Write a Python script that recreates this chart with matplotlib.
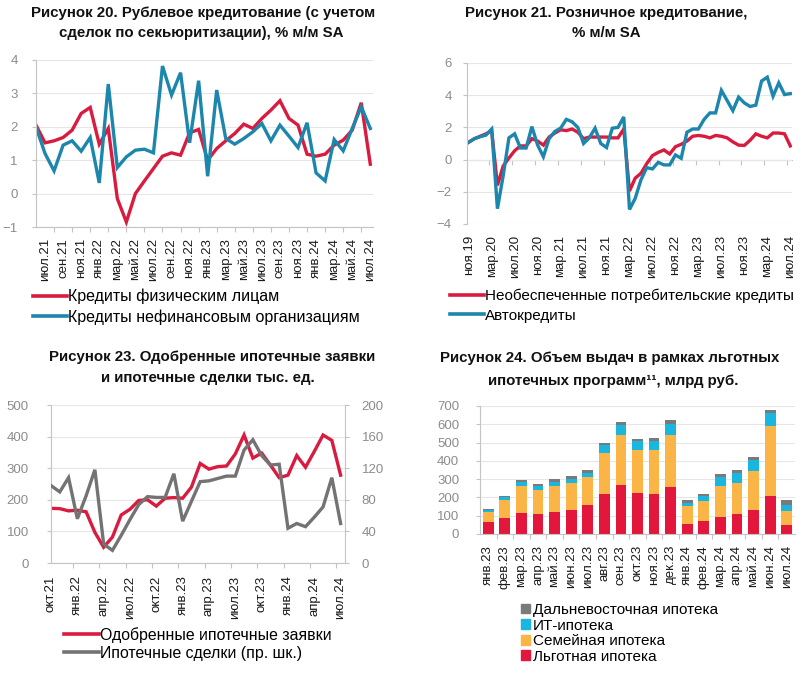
import numpy as np
import matplotlib
matplotlib.use("Agg")
import matplotlib.pyplot as plt
from matplotlib import font_manager as fm
from matplotlib.patches import Patch
from matplotlib.lines import Line2D

# Рисунок 20: рублевое кредитование, % м/м SA (июн.21 - июл.24)
p1_households = [2.05, 1.52, 1.58, 1.68, 1.9, 2.4, 2.58, 1.48, 1.95, -0.15,
                 -0.85, 0.0, 0.38, 0.75, 1.12, 1.22, 1.15, 1.82, 1.92, 1.0,
                 1.35, 1.58, 1.8, 2.08, 1.95, 2.25, 2.5, 2.78, 2.25, 2.05,
                 1.18, 1.12, 1.18, 1.45, 1.6, 1.9, 2.72, 0.88]
p1_corporates = [2.0, 1.2, 0.68, 1.45, 1.58, 1.27, 1.68, 0.32, 3.28, 0.78,
                 1.1, 1.3, 1.33, 1.22, 3.82, 2.95, 3.62, 1.52, 3.38, 0.52,
                 3.1, 1.65, 1.48, 1.65, 1.85, 2.1, 1.58, 2.05, 1.72, 1.38,
                 2.12, 0.62, 0.38, 1.62, 1.28, 1.95, 2.6, 1.95]
p1_ticklabels = ["июл.21", "сен.21", "ноя.21", "янв.22", "мар.22", "май.22",
                 "июл.22", "сен.22", "ноя.22", "янв.23", "мар.23", "май.23",
                 "июл.23", "сен.23", "ноя.23", "янв.24", "мар.24", "май.24",
                 "июл.24"]
p1_names = ["Кредиты физическим лицам", "Кредиты нефинансовым организациям"]

# Рисунок 21: розничное кредитование, % м/м SA (ноя.19 - июл.24)
p2_unsecured = [1.08, 1.3, 1.45, 1.6, 1.8, -1.6, -0.4, 0.1, 0.55, 0.85,
                0.85, 1.3, 1.15, 0.9, 1.4, 1.65, 1.85, 1.8, 1.9, 1.7,
                1.3, 1.4, 1.4, 1.4, 1.4, 1.35, 1.35, 1.9, -1.95, -1.15,
                -0.85, -0.25, 0.25, 0.45, 0.6, 0.35, 0.8, 0.95, 1.15, 1.45,
                1.5, 1.45, 1.35, 1.5, 1.45, 1.35, 1.1, 0.9, 0.88, 1.2,
                1.6, 1.45, 1.35, 1.65, 1.65, 1.6, 0.85]
p2_auto = [1.08, 1.3, 1.42, 1.52, 1.9, -3.05, -1.0, 1.35, 1.6, 0.72,
           0.72, 2.05, 0.9, 0.18, 1.3, 1.75, 1.95, 2.5, 2.35, 2.0,
           1.0, 1.35, 1.95, 1.0, 0.75, 1.95, 2.0, 2.65, -3.1, -2.4,
           -1.25, -0.5, -0.58, -0.17, -0.33, -0.33, 0.29, 0.08, 1.7, 1.9,
           1.9, 2.5, 2.9, 2.9, 4.3, 3.67, 3.04, 3.88, 3.52, 3.3,
           3.38, 4.88, 5.12, 3.94, 4.77, 4.04, 4.1]
p2_ticklabels = ["ноя.19", "мар.20", "июл.20", "ноя.20", "мар.21", "июл.21",
                 "ноя.21", "мар.22", "июл.22", "ноя.22", "мар.23", "июл.23",
                 "ноя.23", "мар.24", "июл.24"]
p2_names = ["Необеспеченные потребительские кредиты", "Автокредиты"]

# Рисунок 23: ипотечные заявки и сделки, тыс. ед. (окт.21 - июл.24)
p3_approved = [173, 172, 165, 167, 162, 97, 50, 82, 152, 170,
               198, 200, 180, 205, 207, 205, 240, 315, 297, 305,
               307, 345, 405, 332, 348, 310, 270, 278, 340, 303,
               353, 405, 388, 278]
p3_deals = [98, 90, 108, 56, 85, 118, 24, 16, 35, 55,
            74, 84, 83, 83, 113, 53, 78, 103, 104, 107,
            110, 110, 143, 156, 136, 124, 125, 44, 50, 46,
            58, 71, 108, 50]
p3_ticklabels = ["окт.21", "янв.22", "апр.22", "июл.22", "окт.22", "янв.23",
                 "апр.23", "июл.23", "окт.23", "янв.24", "апр.24", "июл.24"]
p3_names = ["Одобренные ипотечные заявки", "Ипотечные сделки (пр. шк.)"]

# Рисунок 24: выдачи по льготным программам, млрд руб.
p4_months = ["янв.23", "фев.23", "мар.23", "апр.23", "май.23", "июн.23",
             "июл.23", "авг.23", "сен.23", "окт.23", "ноя.23", "дек.23",
             "янв.24", "фев.24", "мар.24", "апр.24", "май.24", "июн.24",
             "июл.24"]
p4_lgotnaya = [65, 85, 115, 110, 123, 133, 157, 220, 268, 225,
               218, 257, 55, 70, 95, 108, 130, 208, 50]
p4_semeynaya = [58, 100, 145, 132, 142, 145, 153, 222, 272, 235,
                240, 285, 100, 112, 170, 172, 212, 385, 77]
p4_it = [10, 15, 22, 20, 22, 25, 25, 43, 55, 48,
         52, 60, 17, 27, 48, 52, 60, 67, 33]
p4_dv = [5, 10, 13, 12, 13, 13, 15, 12, 15, 12,
         15, 23, 12, 10, 14, 18, 18, 20, 25]
p4_names = ["Льготная ипотека", "Семейная ипотека", "ИТ-ипотека",
            "Дальневосточная ипотека"]

W, H = 807, 673
RED = "#d81b3e"
BLUE = "#1c86ad"
GRAY = "#737373"
BAR_COLORS = ["#e3173c", "#fbb446", "#19b6e0", "#7a7a7a"]
GRID = "#e6e6e6"
SPINE = "#c4c4c4"
YTXT = "#8c8c8c"


def pick_font(names, weight="normal"):
    for name in names:
        try:
            fm.findfont(fm.FontProperties(family=name, weight=weight),
                        fallback_to_default=False)
            return name
        except ValueError:
            pass
    return "DejaVu Sans"


SANS = pick_font(["Liberation Sans", "Arial"])
NARROW = pick_font(["Liberation Sans Narrow", "Liberation Sans"])
plt.rcParams["font.family"] = [SANS, "DejaVu Sans"]

fig = plt.figure(figsize=(W / 100, H / 100), dpi=100)


def px_axes(left, top, right, bottom):
    return fig.add_axes([left / W, 1 - bottom / H, (right - left) / W,
                         (bottom - top) / H])


def style_axes(ax, ypad=9):
    for s in ["top", "right"]:
        ax.spines[s].set_visible(False)
    for s in ["left", "bottom"]:
        ax.spines[s].set_color(SPINE)
        ax.spines[s].set_linewidth(0.8)
    ax.tick_params(axis="y", colors=SPINE, length=3, width=0.8, pad=ypad,
                   labelcolor=YTXT, labelsize=9.5)
    for t in ax.get_yticklabels():
        t.set_fontfamily(NARROW)
    ax.tick_params(axis="x", which="major", length=0, labelsize=9.5,
                   labelcolor="#1a1a1a", labelrotation=90)
    ax.tick_params(axis="x", which="minor", length=3.5, width=0.8,
                   colors=SPINE)
    ax.grid(axis="y", color=GRID, linewidth=0.8)
    ax.set_axisbelow(True)


def title(x, y, text):
    fig.text(x / W, 1 - y / H, text, ha="center", va="center",
             fontsize=10.8, fontweight="bold", color="#111111")


def legend(handles, labels, x, y, size=11, **kw):
    fig.legend(handles, labels, loc="upper left",
               bbox_to_anchor=(x / W, 1 - y / H), frameon=False,
               borderpad=0, borderaxespad=0, fontsize=size, **kw)


def line_handle(color):
    return Line2D([], [], color=color, linewidth=2.6)


# ---------- Рисунок 20 ----------
title(203, 13, "Рисунок 20. Рублевое кредитование (с учетом")
title(201, 33, "сделок по секьюритизации), % м/м SA")
ax1 = px_axes(36, 60, 373, 227)
x1 = np.arange(len(p1_households))
ax1.plot(x1, p1_households, color=RED, linewidth=2.4, solid_joinstyle="miter")
ax1.plot(x1, p1_corporates, color=BLUE, linewidth=2.4, solid_joinstyle="miter")
ax1.set_xlim(0, 37.3)
ax1.set_ylim(-1, 4)
ax1.set_yticks(range(-1, 5))
ax1.set_xticks(np.arange(1, len(x1), 2), p1_ticklabels)
ax1.set_xticks(np.arange(2, len(x1), 2), minor=True)
style_axes(ax1, ypad=10)
ax1.tick_params(axis="x", which="major", pad=8)
legend([line_handle(RED), line_handle(BLUE)], p1_names, 33, 289, size=11.5,
       handlelength=2.1, handletextpad=0.1, labelspacing=0.3)

# ---------- Рисунок 21 ----------
title(606, 13, "Рисунок 21. Розничное кредитование,")
title(606, 33, "% м/м SA")
ax2 = px_axes(467, 63, 792, 224)
x2 = np.arange(len(p2_auto))
ax2.plot(x2, p2_unsecured, color=RED, linewidth=2.4, solid_joinstyle="miter")
ax2.plot(x2, p2_auto, color=BLUE, linewidth=2.4, solid_joinstyle="miter")
ax2.set_xlim(-0.3, 56.3)
ax2.set_ylim(-4, 6)
ax2.set_yticks(range(-4, 7, 2))
ax2.set_xticks(np.arange(0, len(x2), 4), p2_ticklabels)
style_axes(ax2, ypad=8)
ax2.spines["bottom"].set_visible(False)
ax2.tick_params(axis="x", which="major", pad=8)
zero_axis = ax2.secondary_xaxis(4 / 10)
zero_axis.set_xticks(np.arange(3.5, len(x2), 4), [])
zero_axis.tick_params(length=3.5, width=0.8, colors=SPINE)
zero_axis.spines["bottom"].set_color(SPINE)
zero_axis.spines["bottom"].set_linewidth(0.8)
legend([line_handle(RED), line_handle(BLUE)], p2_names, 450, 289,
       handlelength=2.2, handletextpad=0.1, labelspacing=0.35)

# ---------- Рисунок 23 ----------
title(212, 357, "Рисунок 23. Одобренные ипотечные заявки")
title(208, 378, "и ипотечные сделки тыс. ед.")
ax3 = px_axes(51, 405, 345, 563)
x3 = np.arange(len(p3_approved))
ax3.plot(x3, p3_approved, color=RED, linewidth=2.4, solid_joinstyle="miter")
ax3.set_xlim(0, 33.5)
ax3.set_ylim(0, 500)
ax3.set_yticks(range(0, 501, 100))
ax3.set_xticks(np.arange(0, len(x3), 3), p3_ticklabels)
ax3.set_xticks(np.arange(2.5, len(x3), 3), minor=True)
style_axes(ax3, ypad=13)
ax3.tick_params(axis="x", which="major", pad=9)
ax3b = ax3.twinx()
ax3b.plot(x3, p3_deals, color=GRAY, linewidth=2.4, solid_joinstyle="miter")
ax3b.set_ylim(0, 200)
ax3b.set_yticks(range(0, 201, 40))
for s in ["top", "left", "bottom"]:
    ax3b.spines[s].set_visible(False)
ax3b.spines["right"].set_color(SPINE)
ax3b.spines["right"].set_linewidth(0.8)
ax3b.tick_params(axis="y", colors=SPINE, length=3, width=0.8, pad=9,
                 labelcolor=YTXT, labelsize=9.5)
for t in ax3b.get_yticklabels():
    t.set_fontfamily(NARROW)
legend([line_handle(RED), line_handle(GRAY)], p3_names, 64, 627, size=11.4,
       handlelength=2.2, handletextpad=0.1, labelspacing=0.2)

# ---------- Рисунок 24 ----------
title(610, 358, "Рисунок 24. Объем выдач в рамках льготных")
title(613, 381, "ипотечных программ¹¹, млрд руб.")
ax4 = px_axes(480, 406, 795, 534)
x4 = np.arange(len(p4_months))
bottom = np.zeros(len(x4))
for vals, color in zip([p4_lgotnaya, p4_semeynaya, p4_it, p4_dv], BAR_COLORS):
    ax4.bar(x4, vals, width=0.65, bottom=bottom, color=color, linewidth=0)
    bottom += np.array(vals)
ax4.set_xlim(-0.5, 18.5)
ax4.set_ylim(0, 700)
ax4.set_yticks(range(0, 701, 100))
ax4.set_xticks(x4, p4_months)
ax4.set_xticks(np.arange(0.5, 18, 1), minor=True)
style_axes(ax4, ypad=12)
ax4.tick_params(axis="x", which="major", pad=8)
bar_handles = [Patch(color=c) for c in BAR_COLORS[::-1]]
legend(bar_handles, p4_names[::-1], 521, 603,
       handlelength=0.6, handleheight=0.6, handletextpad=0.2,
       labelspacing=0.1)

fig.savefig("out.png", dpi=100)
